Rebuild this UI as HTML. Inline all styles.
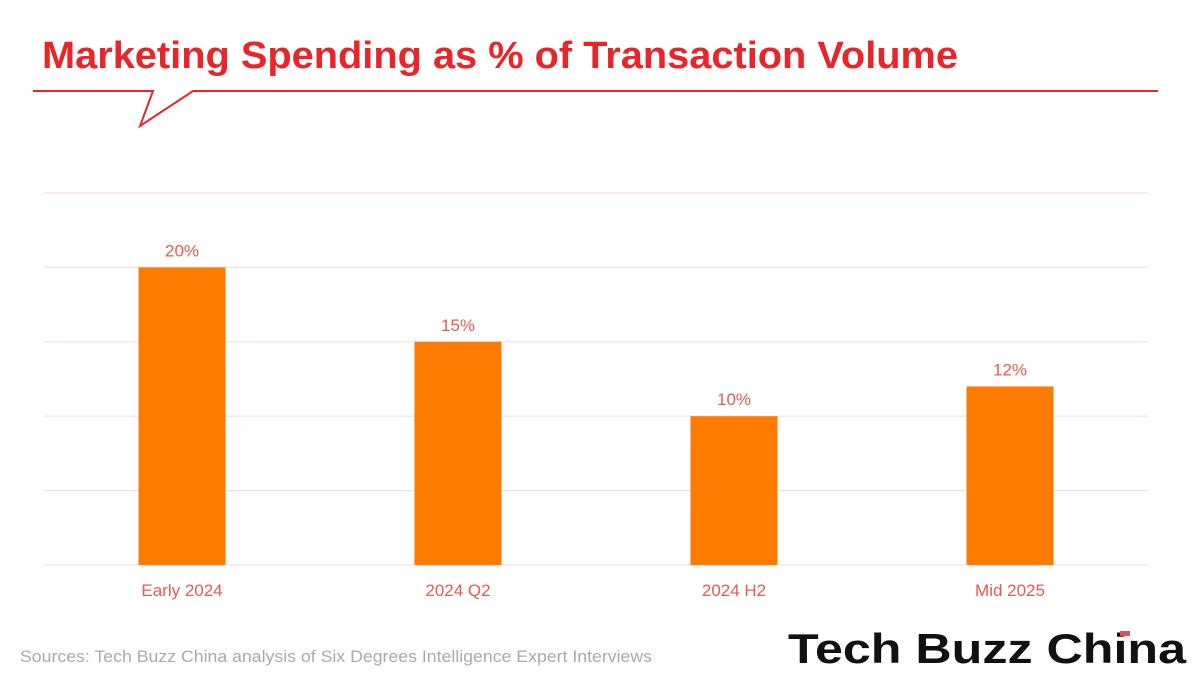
<!DOCTYPE html>
<html><head><meta charset="utf-8"><style>
body{margin:0;background:#fff;}
svg{display:block;font-family:"Liberation Sans",sans-serif;}
</style></head><body>
<svg width="1200" height="675">
<text x="42" y="68" font-size="38" font-weight="bold" fill="#e8262a" textLength="916" lengthAdjust="spacingAndGlyphs">Marketing Spending as % of Transaction Volume</text>
<path d="M33 91 H153 L140 126 L193 91 H1158" fill="none" stroke="#e8262a" stroke-width="2"/>
<g id="grid"></g>
<g id="bars"></g>
<text x="20" y="662" font-size="17" fill="#aaa" textLength="632" lengthAdjust="spacingAndGlyphs">Sources: Tech Buzz China analysis of Six Degrees Intelligence Expert Interviews</text>
<g>
<text x="788" y="663" font-size="42" font-weight="bold" fill="#111" textLength="398" lengthAdjust="spacingAndGlyphs">Tech Buzz China</text>
<rect x="1120" y="631" width="10" height="5" fill="#e05060"/>
</g>
<script>
const categories=["Early 2024","2024 Q2","2024 H2","Mid 2025"];
const values=[20,15,10,12];
const labels=["20%","15%","10%","12%"];
const gridTicks=[0,5,10,15,20,25];
const NS="http://www.w3.org/2000/svg";
const x0=44,x1=1148,yBase=565,yTop=193,maxV=25;
const y=v=>yBase-(v/maxV)*(yBase-yTop);
const band=(x1-x0)/categories.length;
const xc=i=>x0+band*(i+0.5);
const bw=87;
const g=document.getElementById('grid'),b=document.getElementById('bars');
gridTicks.forEach(t=>{const l=document.createElementNS(NS,'line');


l.setAttribute('x1',x0);l.setAttribute('x2',x1);l.setAttribute('y1',y(t));l.setAttribute('y2',y(t));
l.setAttribute('stroke','#f8dede');l.setAttribute('stroke-width','1.2');g.appendChild(l);});
categories.forEach((c,i)=>{
const r=document.createElementNS(NS,'rect');


r.setAttribute('x',xc(i)-bw/2);r.setAttribute('y',y(values[i]));r.setAttribute('width',bw);r.setAttribute('height',yBase-y(values[i]));r.setAttribute('fill','#ff7a00');b.appendChild(r);
const t=document.createElementNS(NS,'text');


t.setAttribute('x',xc(i));t.setAttribute('y',y(values[i])-11);t.setAttribute('text-anchor','middle');t.setAttribute('font-size','17');t.setAttribute('fill','#e85a50');t.textContent=labels[i];b.appendChild(t);
const a=document.createElementNS(NS,'text');


a.setAttribute('x',xc(i));a.setAttribute('y',596);a.setAttribute('text-anchor','middle');a.setAttribute('font-size','17');a.setAttribute('fill','#e85a50');a.textContent=c;b.appendChild(a);
});
</script>
</svg>
</body></html>
